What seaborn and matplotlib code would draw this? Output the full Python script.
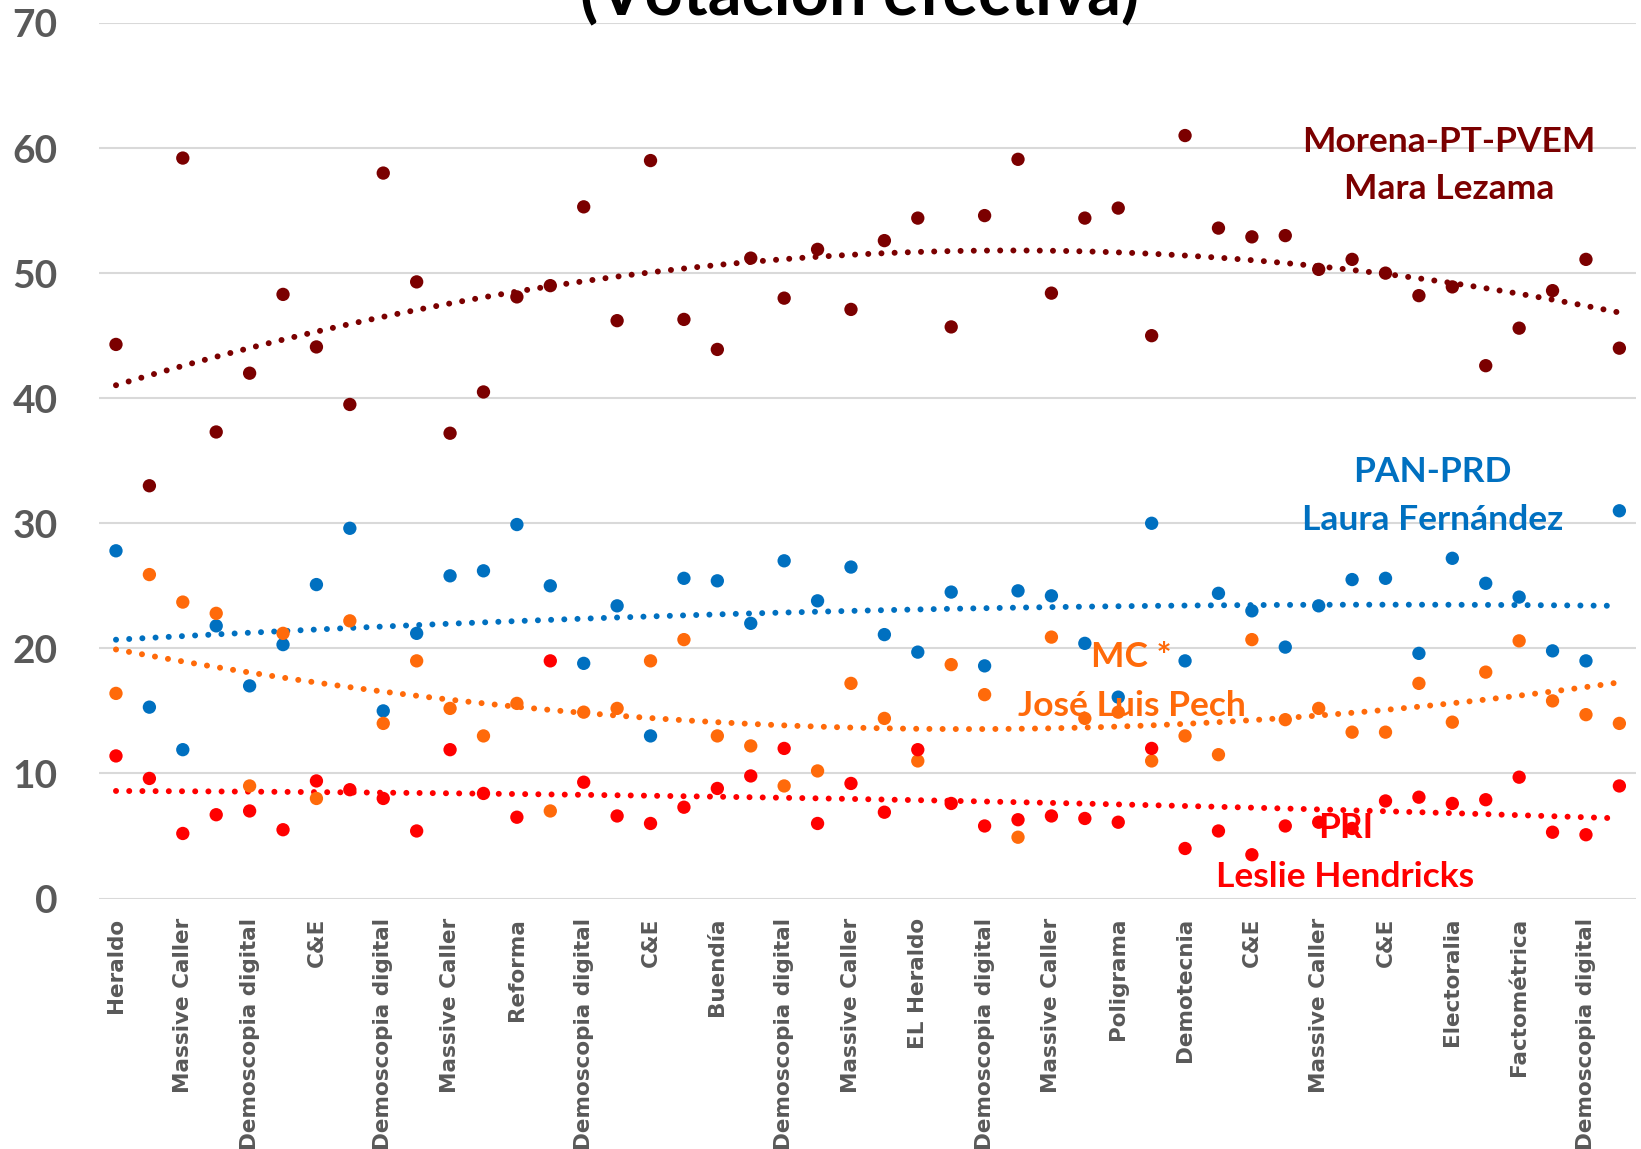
import numpy as np
import pandas as pd
import matplotlib
matplotlib.use('Agg')
import matplotlib.pyplot as plt
import seaborn as sns

# encuestas (solo se ven las etiquetas pares del eje)
tick_labels = ['Heraldo', 'Massive Caller', 'Demoscopia digital', 'C&E',
               'Demoscopia digital', 'Massive Caller', 'Reforma', 'Demoscopia digital',
               'C&E', 'Buendía', 'Demoscopia digital', 'Massive Caller', 'EL Heraldo',
               'Demoscopia digital', 'Massive Caller', 'Poligrama', 'Demotecnia', 'C&E',
               'Massive Caller', 'C&E', 'Electoralia', 'Factométrica', 'Demoscopia digital']

morena = [44.3, 33.0, 59.2, 37.3, 42.0, 48.3, 44.1, 39.5, 58.0, 49.3, 37.2, 40.5,
          48.1, 49.0, 55.3, 46.2, 59.0, 46.3, 43.9, 51.2, 48.0, 51.9, 47.1, 52.6,
          54.4, 45.7, 54.6, 59.1, 48.4, 54.4, 55.2, 45.0, 61.0, 53.6, 52.9, 53.0,
          50.3, 51.1, 50.0, 48.2, 48.9, 42.6, 45.6, 48.6, 51.1, 44.0]
pan_prd = [27.8, 15.3, 11.9, 21.8, 17.0, 20.3, 25.1, 29.6, 15.0, 21.2, 25.8, 26.2,
           29.9, 25.0, 18.8, 23.4, 13.0, 25.6, 25.4, 22.0, 27.0, 23.8, 26.5, 21.1,
           19.7, 24.5, 18.6, 24.6, 24.2, 20.4, 16.1, 30.0, 19.0, 24.4, 23.0, 20.1,
           23.4, 25.5, 25.6, 19.6, 27.2, 25.2, 24.1, 19.8, 19.0, 31.0]
mc = [16.4, 25.9, 23.7, 22.8, 9.0, 21.2, 8.0, 22.2, 14.0, 19.0, 15.2, 13.0,
      15.6, 7.0, 14.9, 15.2, 19.0, 20.7, 13.0, 12.2, 9.0, 10.2, 17.2, 14.4,
      11.0, 18.7, 16.3, 4.9, 20.9, 14.4, 14.9, 11.0, 13.0, 11.5, 20.7, 14.3,
      15.2, 13.3, 13.3, 17.2, 14.1, 18.1, 20.6, 15.8, 14.7, 14.0]
pri = [11.4, 9.6, 5.2, 6.7, 7.0, 5.5, 9.4, 8.7, 8.0, 5.4, 11.9, 8.4,
       6.5, 19.0, 9.3, 6.6, 6.0, 7.3, 8.8, 9.8, 12.0, 6.0, 9.2, 6.9,
       11.9, 7.6, 5.8, 6.3, 6.6, 6.4, 6.1, 12.0, 4.0, 5.4, 3.5, 5.8,
       6.1, 5.6, 7.8, 8.1, 7.6, 7.9, 9.7, 5.3, 5.1, 9.0]

colores = {'Morena': '#7B0000', 'PAN-PRD': '#0070C0', 'MC': '#FF6A0A', 'PRI': '#FF0000'}

n = len(morena)
idx = np.arange(n)
df = pd.concat([
    pd.DataFrame({'encuesta': idx, 'votos': morena, 'partido': 'Morena'}),
    pd.DataFrame({'encuesta': idx, 'votos': pan_prd, 'partido': 'PAN-PRD'}),
    pd.DataFrame({'encuesta': idx, 'votos': mc, 'partido': 'MC'}),
    pd.DataFrame({'encuesta': idx, 'votos': pri, 'partido': 'PRI'}),
])

sns.set_style('white')
plt.rcParams['font.family'] = ['Lato', 'DejaVu Sans']

fig = plt.figure(figsize=(16.41, 11.49), dpi=100)
ax = fig.add_axes([0.0605, 0.218, 0.9365, 0.762])

# lineas de tendencia polinomica (orden 2), punteadas
for p in ['Morena', 'PAN-PRD', 'MC', 'PRI']:
    sub = df[df['partido'] == p]
    sns.regplot(data=sub, x='encuesta', y='votos', order=2, ci=None, scatter=False,
                ax=ax, line_kws={'color': colores[p], 'linewidth': 4.3,
                                 'linestyle': (0, (0.01, 2.2)),
                                 'dash_capstyle': 'round'})

sns.scatterplot(data=df, x='encuesta', y='votos', hue='partido', palette=colores,
                s=92, edgecolor='none', legend=False, ax=ax, zorder=3)

ax.set_xlim(-0.5, 45.5)
ax.set_ylim(0, 70)
ax.set_yticks(range(0, 71, 10))
ax.set_yticklabels([str(v) for v in range(0, 71, 10)], fontsize=28,
                   fontweight='bold', color='#595959')
ax.set_xticks(idx[::2])
ax.set_xticklabels(tick_labels, rotation=90, fontsize=15.5, fontweight='bold',
                   color='#595959', family='DejaVu Sans', va='top')
ax.tick_params(axis='y', length=0, pad=30)
ax.tick_params(axis='x', length=0, pad=14)
ax.set_xlabel('')
ax.set_ylabel('')
ax.grid(axis='y', color='#D9D9D9', linewidth=1.5)
ax.set_axisbelow(True)
for s in ax.spines.values():
    s.set_visible(False)

# etiquetas de candidatos
kw = dict(ha='center', va='center', fontsize=25.5, fontweight='bold')
ax.text(39.9, 60.5, 'Morena-PT-PVEM', color=colores['Morena'], **kw)
ax.text(39.9, 56.7, 'Mara Lezama', color=colores['Morena'], **kw)
ax.text(39.4, 34.1, 'PAN-PRD', color=colores['PAN-PRD'], **kw)
ax.text(39.4, 30.3, 'Laura Fernández', color=colores['PAN-PRD'], **kw)
ax.text(30.4, 19.3, 'MC *', color=colores['MC'], **kw)
ax.text(30.4, 15.4, 'José Luis Pech', color=colores['MC'], **kw)
ax.text(36.8, 5.6, 'PRI', color=colores['PRI'], **kw)
ax.text(36.8, 1.7, 'Leslie Hendricks', color=colores['PRI'], **kw)

# titulo (cortado en el borde superior, como en el original)
fig.text(0.524, 1 - 15 / 1149, '(Votación efectiva)', ha='center', va='baseline',
         fontsize=48, fontweight='bold', color='black')

fig.savefig('out.png', dpi=100)
